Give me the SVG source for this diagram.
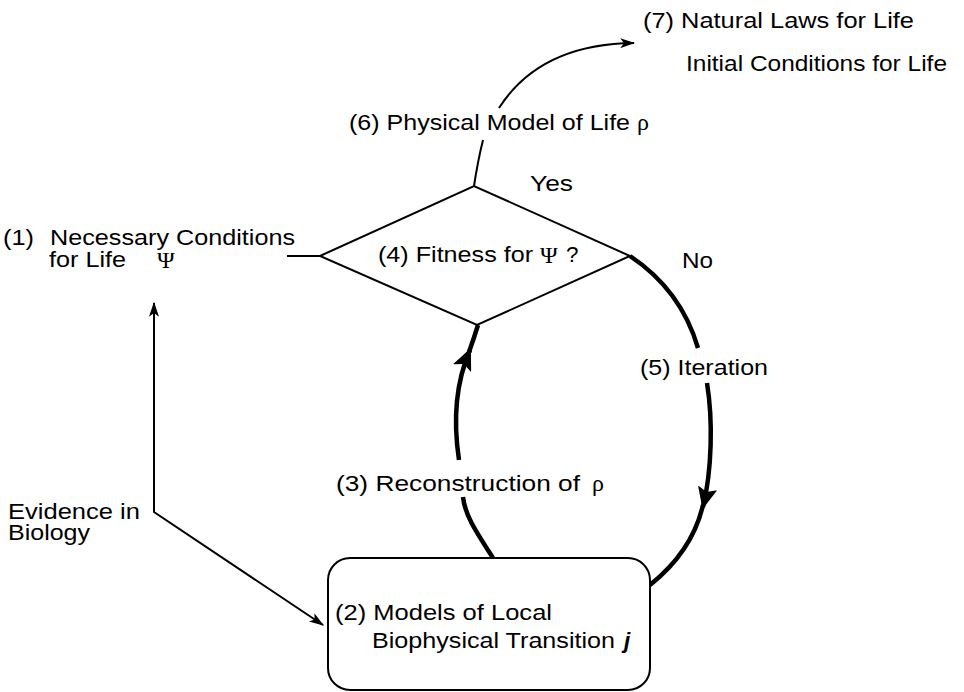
<svg xmlns="http://www.w3.org/2000/svg" width="964" height="692" viewBox="0 0 964 692">
<defs>
<style>
text{font-family:"Liberation Sans",Arial,sans-serif;font-size:22.5px;fill:#000}
.sym{font-family:"Liberation Serif","DejaVu Serif",serif;font-size:24px}
.thin{fill:none;stroke:#000;stroke-width:2}
.thick{fill:none;stroke:#000;stroke-width:4.5;stroke-linecap:butt}
.shape{fill:#fff;stroke:#000;stroke-width:2}
</style>
<marker id="ah" viewBox="0 0 12 8" refX="11" refY="4" markerUnits="userSpaceOnUse" markerWidth="15" markerHeight="10" orient="auto-start-reverse">
<path d="M0,0 L12,4 L0,8 L3,4 Z" fill="#000"/>
</marker>
<marker id="big" viewBox="0 0 20 18" refX="18" refY="9" markerUnits="userSpaceOnUse" markerWidth="22" markerHeight="20" orient="auto">
<path d="M0,0 L20,9 L0,18 L4,9 Z" fill="#000"/>
</marker>
</defs>
<rect width="964" height="692" fill="#fff"/>

<g id="connectors">
<path class="thin" d="M287,256 L372,256" marker-end="url(#ah)"/>
<path class="thin" d="M154,303 L154,512 L323,625" marker-start="url(#ah)" marker-end="url(#ah)"/>
<path class="thin" d="M474,186 Q478,160 483,140"/>
<path class="thin" d="M499,108 Q540,44 634,43" marker-end="url(#ah)"/>
<path class="thick" d="M630,256 Q681,290 698,348"/>
<path class="thick" d="M707,383 C713,420 712,470 703,507" marker-end="url(#big)"/>
<path class="thick" d="M703,505 C695,540 675,565 650,585"/>
<path class="thick" d="M493,558 C475,530 465,515 463,497"/>
<path class="thick" d="M459,460 C453,420 456,382 470,350" marker-end="url(#big)"/>
<path class="thick" d="M469,352 Q474,338 478,325"/>
</g>

<g id="n1">
<text x="3" y="245" textLength="31" lengthAdjust="spacingAndGlyphs">(1)</text>
<text x="50" y="245" textLength="245" lengthAdjust="spacingAndGlyphs">Necessary Conditions</text>
<text x="49" y="267" textLength="77" lengthAdjust="spacingAndGlyphs">for Life</text>
<text class="sym" x="157" y="268">Ψ</text>
</g>

<g id="n4">
<polygon class="shape" points="320,256 474,186 630,256 477,325" fill="none"/>
<text x="378" y="262" textLength="155" lengthAdjust="spacingAndGlyphs">(4) Fitness for</text>
<text class="sym" x="540" y="263">Ψ</text>
<text x="566" y="262">?</text>
</g>

<g id="n2">
<rect class="shape" x="328" y="558" width="322" height="132" rx="22" ry="22"/>
<text x="335" y="620" textLength="217" lengthAdjust="spacingAndGlyphs">(2) Models of Local</text>
<text x="372" y="648" textLength="243" lengthAdjust="spacingAndGlyphs">Biophysical Transition</text>
<text x="624" y="648" font-weight="bold" font-style="italic" font-size="24">j</text>
</g>

<g id="n6">
<text x="349" y="130" textLength="281" lengthAdjust="spacingAndGlyphs">(6) Physical Model of Life</text>
<text class="sym" x="637" y="130">ρ</text>
</g>

<g id="n7">
<text x="643" y="28" textLength="271" lengthAdjust="spacingAndGlyphs">(7) Natural Laws for Life</text>
<text x="686" y="71" textLength="261" lengthAdjust="spacingAndGlyphs">Initial Conditions for Life</text>
</g>

<g id="labels">
<text x="530" y="191" textLength="43" lengthAdjust="spacingAndGlyphs">Yes</text>
<text x="682" y="268" textLength="31" lengthAdjust="spacingAndGlyphs">No</text>
<text x="640" y="375" textLength="128" lengthAdjust="spacingAndGlyphs">(5) Iteration</text>
<text x="336" y="491" textLength="244" lengthAdjust="spacingAndGlyphs">(3) Reconstruction of</text>
<text class="sym" x="592" y="491">ρ</text>
<text x="8" y="519" textLength="132" lengthAdjust="spacingAndGlyphs">Evidence in</text>
<text x="8" y="540" textLength="82" lengthAdjust="spacingAndGlyphs">Biology</text>
</g>
</svg>
